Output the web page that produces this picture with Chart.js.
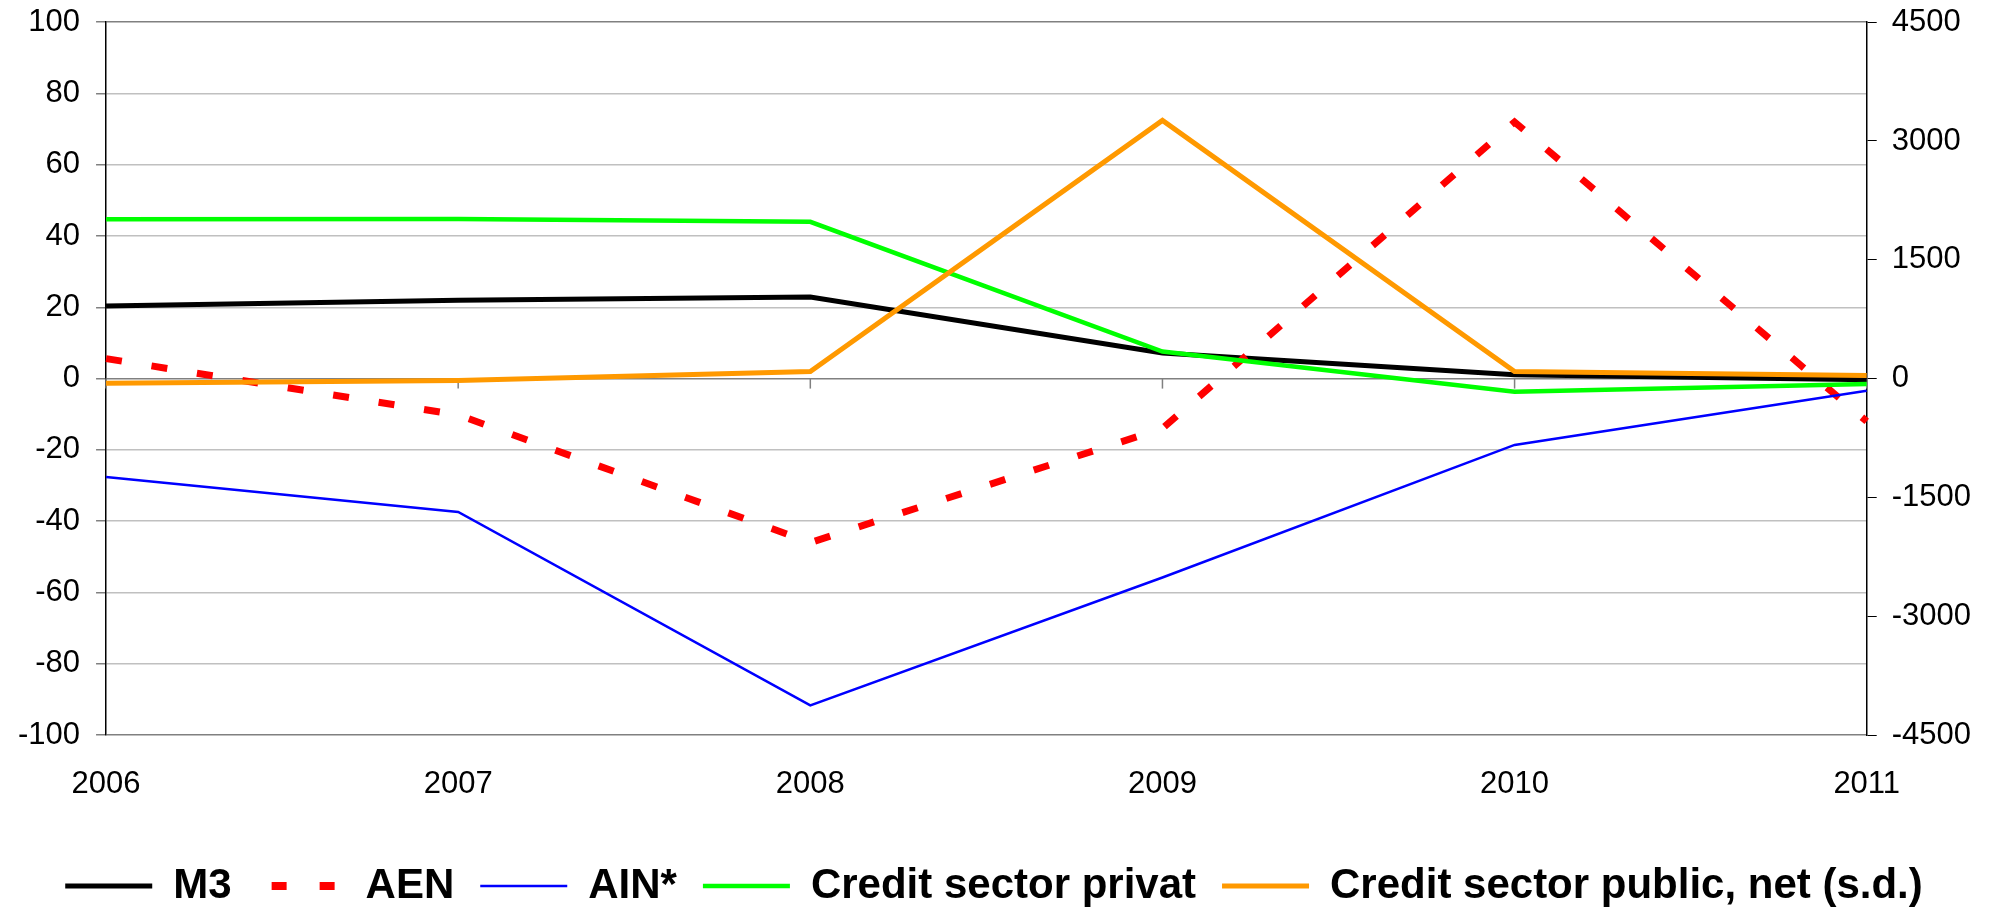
<!DOCTYPE html>
<html>
<head>
<meta charset="utf-8">
<script src="https://cdn.jsdelivr.net/npm/chart.js@4.4.1/dist/chart.umd.min.js"></script>
<style>
  html, body { margin: 0; padding: 0; background: #fff; }
  #wrap { width: 1993px; height: 909px; position: relative; }
</style>
</head>
<body>
<div id="wrap"><canvas id="chart"></canvas></div>
<script>
// categories
const years = ['2006', '2007', '2008', '2009', '2010', '2011'];

// series (left axis, %)
const m3 = [20.4, 22.0, 22.9, 7.2, 1.1, -0.3];
const aen = [5.6, -10.2, -46, -14, 72, -12];
const ain = [-27.6, -37.4, -91.7, -55.8, -18.6, -3.4];
const creditPrivat = [44.7, 44.8, 44.0, 7.6, -3.7, -1.5];
// series on right axis (s.d.)
const creditPublic = [-60, -25, 90, 3260, 90, 40];

const leftMin = -100, leftMax = 100, leftStep = 20;
const rightMin = -4500, rightMax = 4500, rightStep = 1500;

const FONT = '"Liberation Sans", Arial, sans-serif';

// small marks on the zero line at each year
const zeroTicks = {
  id: 'zeroTicks',
  beforeDatasetsDraw(chart) {
    const { ctx, scales } = chart;
    const y0 = scales.y.getPixelForValue(0);
    ctx.save();
    ctx.strokeStyle = '#808080';
    ctx.lineWidth = 1.5;
    years.forEach((_, i) => {
      const x = scales.x.getPixelForValue(i);
      ctx.beginPath();
      ctx.moveTo(x, y0);
      ctx.lineTo(x, y0 + 10);
      ctx.stroke();
    });
    ctx.restore();
  }
};

// legend sample for the dashed series: two short red dashes
function dashSample() {
  const c = document.createElement('canvas');
  c.width = 87; c.height = 8;
  const g = c.getContext('2d');
  g.fillStyle = '#ff0000';
  g.fillRect(14, 0, 15, 8);
  g.fillRect(62, 0, 15, 8);
  return c;
}
const aenSample = dashSample();

new Chart(document.getElementById('chart').getContext('2d'), {
  type: 'line',
  data: {
    labels: years,
    datasets: [
      { label: 'M3', data: m3, borderColor: '#000000', backgroundColor: '#000000',
        borderWidth: 5, yAxisID: 'y', order: 5 },
      { label: 'AEN', data: aen, borderColor: '#ff0000', backgroundColor: '#ff0000',
        borderWidth: 7, borderDash: [16, 30], borderCapStyle: 'butt', yAxisID: 'y', order: 4 },
      { label: 'AIN*', data: ain, borderColor: '#0000ff', backgroundColor: '#0000ff',
        borderWidth: 2.5, yAxisID: 'y', order: 3 },
      { label: 'Credit sector privat', data: creditPrivat, borderColor: '#00ff00', backgroundColor: '#00ff00',
        borderWidth: 4.5, yAxisID: 'y', order: 2 },
      { label: 'Credit sector public, net (s.d.)', data: creditPublic, borderColor: '#ff9900', backgroundColor: '#ff9900',
        borderWidth: 5, yAxisID: 'y1', order: 1 }
    ]
  },
  options: {
    responsive: true,
    maintainAspectRatio: false,
    animation: false,
    elements: { point: { radius: 0 }, line: { tension: 0 } },
    layout: { padding: { left: 2, right: 7, top: 0, bottom: -8 } },
    scales: {
      x: {
        offset: false,
        grid: { display: false, drawTicks: false },
        border: { display: false },
        ticks: { color: '#000', font: { family: FONT, size: 31 }, maxRotation: 0, autoSkip: false, padding: 31 },
        afterFit(scale) { scale.height = 104; }
      },
      y: {
        position: 'left',
        min: leftMin, max: leftMax,
        ticks: { stepSize: leftStep, color: '#000', font: { family: FONT, size: 31, lineHeight: 0.4 }, padding: 16 },
        grid: {
          color: c => (c.tick.value === 0 || Math.abs(c.tick.value) === 100) ? '#808080' : '#c0c0c0',
          lineWidth: 1.5,
          tickLength: 10,
          tickColor: '#808080'
        },
        border: { color: '#000', width: 1.5 }
      },
      y1: {
        position: 'right',
        min: rightMin, max: rightMax,
        ticks: { stepSize: rightStep, color: '#000', font: { family: FONT, size: 31, lineHeight: 0.4 }, padding: 15,
                 callback: v => String(v) },
        grid: { drawOnChartArea: false, tickLength: 10, tickColor: '#000' },
        border: { color: '#000', width: 1.5 }
      }
    },
    plugins: {
      legend: {
        position: 'bottom',
        labels: {
          usePointStyle: true,
          pointStyle: 'line',
          pointStyleWidth: 87,
          padding: 26,
          color: '#000',
          font: { family: FONT, size: 42, weight: 'bold' },
          sort: (a, b) => a.datasetIndex - b.datasetIndex,
          generateLabels(chart) {
            const items = Chart.defaults.plugins.legend.labels.generateLabels(chart);
            items.forEach(it => { if (it.text === 'AEN') it.pointStyle = aenSample; });
            return items;
          }
        }
      },
      tooltip: { enabled: false }
    }
  },
  plugins: [zeroTicks]
});
</script>
</body>
</html>
